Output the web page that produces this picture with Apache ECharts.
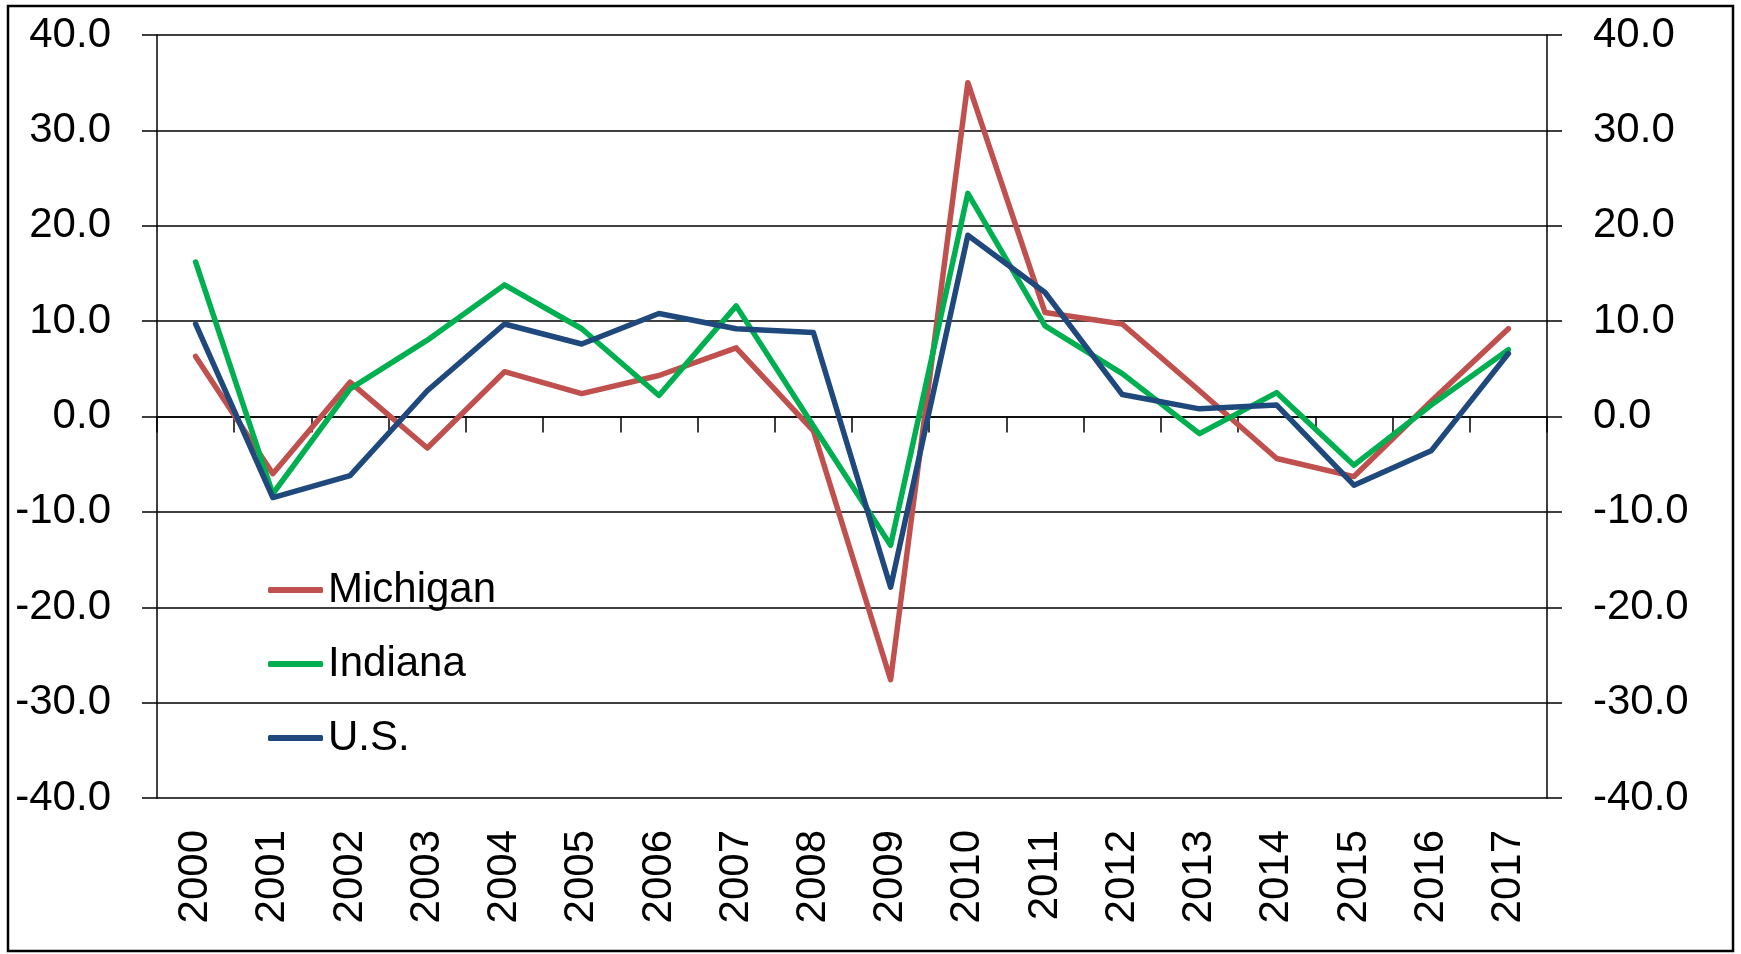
<!DOCTYPE html>
<html>
<head>
<meta charset="utf-8">
<script src="https://cdn.jsdelivr.net/npm/echarts@6/dist/echarts.min.js"></script>
<style>
  html, body { margin: 0; padding: 0; background: #fff; }
  #main { width: 1741px; height: 954px; }
</style>
</head>
<body>
<div id="main"></div>
<script>
// 年份
const years = ['2000', '2001', '2002', '2003', '2004', '2005', '2006', '2007', '2008',
  '2009', '2010', '2011', '2012', '2013', '2014', '2015', '2016', '2017'];

// 各系列数值
const michigan = [6.3, -6.0, 3.6, -3.3, 4.7, 2.4, 4.3, 7.2, -1.5, -27.6, 35.0, 10.9, 9.7, 2.7, -4.4, -6.3, 1.6, 9.2];
const indiana = [16.2, -8.1, 2.9, 8.0, 13.8, 9.2, 2.2, 11.6, -1.0, -13.5, 23.4, 9.5, 4.5, -1.8, 2.5, -5.1, 1.2, 7.0];
const us = [9.7, -8.5, -6.2, 2.7, 9.7, 7.6, 10.8, 9.2, 8.8, -17.9, 19.0, 13.0, 2.3, 0.8, 1.2, -7.2, -3.6, 6.6];

const font = 'Liberation Sans';
const chart = echarts.init(document.getElementById('main'));

// 左右两个y轴配置差不多，用函数生成
function yAxisCfg(pos, grid) {
  return {
    type: 'value',
    position: pos,
    min: -40,
    max: 40,
    interval: 10,
    axisLine: { show: true, lineStyle: { color: '#000', width: 1.5 } },
    axisTick: { show: true, length: 15, lineStyle: { color: '#000', width: 1.5 } },
    axisLabel: {
      margin: 46,
      color: '#000',
      fontFamily: font,
      fontSize: 42,
      formatter: v => v.toFixed(1)
    },
    splitLine: { show: grid, lineStyle: { color: '#000', width: 1.5 } }
  };
}

function lineSeries(name, data, color) {
  return {
    name: name,
    type: 'line',
    data: data,
    symbol: 'none',
    itemStyle: { color: color },
    lineStyle: { color: color, width: 5.5, cap: 'round', join: 'round' }
  };
}

const option = {
  backgroundColor: '#fff',
  animation: false,
  grid: { left: 157, right: 194, top: 35, bottom: 156 },
  legend: {
    orient: 'vertical',
    left: 263,
    top: 564,
    itemWidth: 55,
    itemHeight: 6,
    itemGap: 32,
    icon: 'roundRect',
    textStyle: { color: '#000', fontFamily: font, fontSize: 42, lineHeight: 42 },
    data: ['Michigan', 'Indiana', 'U.S.']
  },
  xAxis: [{
    // 底部年份标签
    type: 'category',
    data: years,
    position: 'bottom',
    boundaryGap: true,
    axisLine: { show: false, onZero: false },
    axisTick: { show: false },
    axisLabel: {
      interval: 0,
      rotate: 90,
      margin: 32,
      color: '#000',
      fontFamily: font,
      fontSize: 42
    }
  }, {
    // 0 线上的刻度
    type: 'category',
    data: years,
    position: 'top',
    boundaryGap: true,
    axisLine: { show: true, onZero: true, onZeroAxisIndex: 0, lineStyle: { color: '#000', width: 1.5 } },
    axisTick: { show: true, inside: true, length: 16, interval: 0, lineStyle: { color: '#000', width: 1.5 } },
    axisLabel: { show: false }
  }],
  yAxis: [yAxisCfg('left', true), yAxisCfg('right', false)],
  series: [
    lineSeries('Michigan', michigan, '#C0504D'),
    lineSeries('Indiana', indiana, '#00B050'),
    lineSeries('U.S.', us, '#1F497D')
  ],
  graphic: [{
    type: 'rect',
    shape: { x: 8, y: 6, width: 1725, height: 945 },
    style: { fill: 'none', stroke: '#000', lineWidth: 2.5 },
    silent: true
  }]
};

chart.setOption(option);
</script>
</body>
</html>
